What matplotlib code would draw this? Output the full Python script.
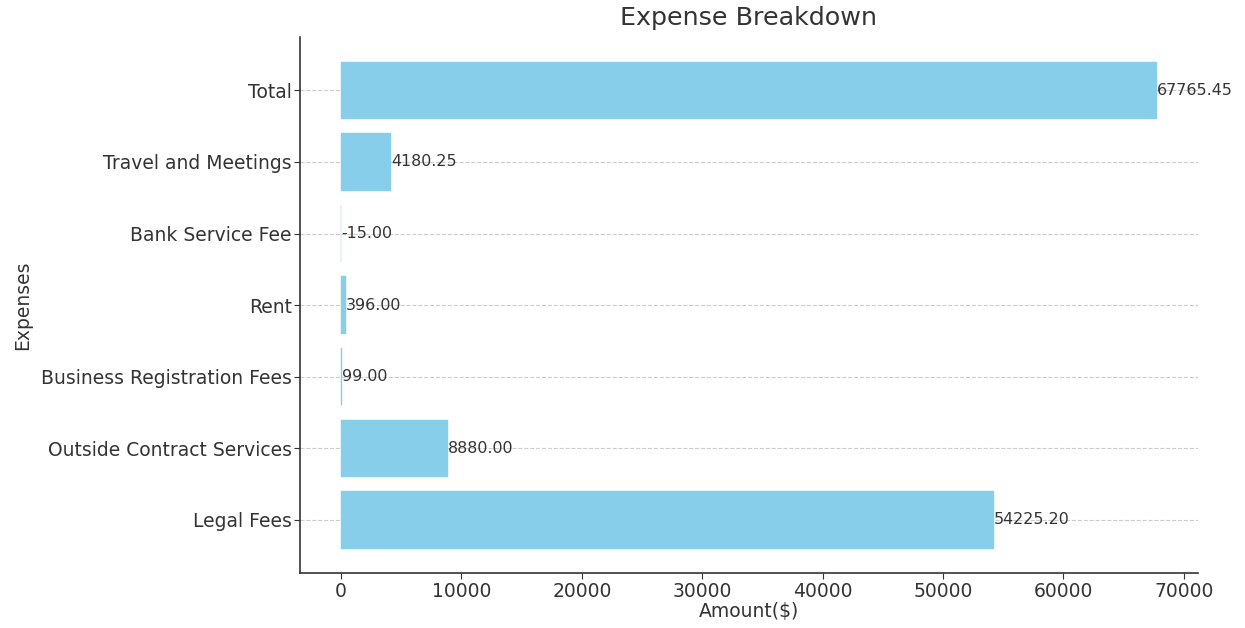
import numpy as np
import matplotlib.pyplot as plt

# expense categories and amounts (bottom to top)
categories = ["Legal Fees", "Outside Contract Services", "Business Registration Fees",
              "Rent", "Bank Service Fee", "Travel and Meetings", "Total"]
amounts = [54225.20, 8880.00, 99.00, 396.00, -15.00, 4180.25, 67765.45]

text_color = "#333333"

fig = plt.figure(figsize=(12.45, 6.28), dpi=100)
ax = fig.add_axes([0.241, 0.0876, 0.721, 0.853])

ax.barh(categories, amounts, color="skyblue", height=0.8, zorder=2,
        edgecolor="skyblue", linewidth=0.3)

for i, v in enumerate(amounts):
    ax.text(v, i, f"{v:.2f}", va="center", ha="left", fontsize=11.4, color=text_color, zorder=3)

ax.set_title("Expense Breakdown", fontsize=18.3, color=text_color, pad=9)
ax.set_xlabel("Amount($)", fontsize=13.5, color=text_color, labelpad=1)
ax.set_ylabel("Expenses", fontsize=13.5, color=text_color, labelpad=6)

ax.tick_params(axis="both", labelsize=13.5, labelcolor=text_color, color=text_color, length=4)
ax.tick_params(axis="y", pad=2)
ax.tick_params(axis="x", pad=2.5)
ax.xaxis.grid(False)
ax.yaxis.grid(True, linestyle="--", color="#cccccc", linewidth=0.8, zorder=0)
ax.set_axisbelow(True)

for side in ["top", "right"]:
    ax.spines[side].set_visible(False)
for side in ["left", "bottom"]:
    ax.spines[side].set_color(text_color)
    ax.spines[side].set_linewidth(1.2)

plt.savefig("out.png")
